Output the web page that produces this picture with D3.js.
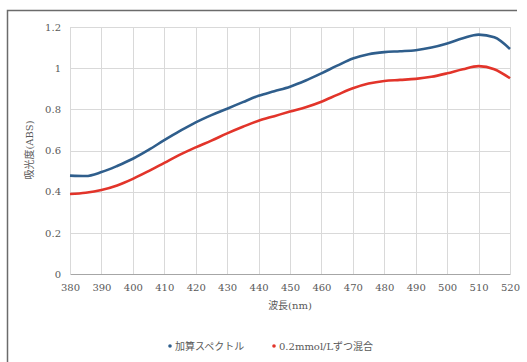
<!DOCTYPE html>
<html>
<head>
<meta charset="utf-8">
<script src="https://cdn.jsdelivr.net/npm/d3@7"></script>
<style>
  body { margin: 0; background: #fff; }
  .eje text { font-family: "DejaVu Serif", "Liberation Serif", serif; font-size: 10px; fill: #595959; }
  .titulo { font-family: "DejaVu Serif", "Noto Sans CJK JP", serif; font-size: 10px; fill: #595959; }
</style>
</head>
<body>
<div id="graf"></div>
<script>
// datos
wavelengths = [380, 385, 390, 395, 400, 405, 410, 415, 420, 425, 430, 435, 440, 445, 450,
               455, 460, 465, 470, 475, 480, 485, 490, 495, 500, 505, 510, 515, 520]
sumSpectrum = [0.478, 0.476, 0.495, 0.525, 0.560, 0.603, 0.650, 0.695, 0.737, 0.772, 0.803, 0.835, 0.866, 0.888, 0.910,
               0.940, 0.975, 1.012, 1.047, 1.068, 1.078, 1.082, 1.087, 1.100, 1.120, 1.145, 1.163, 1.150, 1.093]
mixSpectrum = [0.389, 0.395, 0.408, 0.430, 0.462, 0.500, 0.540, 0.580, 0.615, 0.648, 0.683, 0.715, 0.745, 0.767, 0.789,
               0.810, 0.837, 0.870, 0.902, 0.925, 0.938, 0.943, 0.948, 0.958, 0.975, 0.995, 1.010, 0.995, 0.951]
xTicks = [380, 390, 400, 410, 420, 430, 440, 450, 460, 470, 480, 490, 500, 510, 520]
yTicks = [0, 0.2, 0.4, 0.6, 0.8, 1, 1.2]
seriesNames = ['加算スペクトル', '0.2mmol/Lずつ混合']
seriesColors = ['#2f5e8c', '#e2342a']

// configuración
ancho_total = 527
alto_total = 362
margins = { top: 27, left: 70, right: 17, bottom: 88 }
ancho = ancho_total - margins.left - margins.right
alto = alto_total - margins.top - margins.bottom

svg = d3.select('#graf').append('svg')
        .attr('width', ancho_total)
        .attr('height', alto_total)

// marco
svg.append('path')
   .attr('d', 'M7.5,362 L7.5,10.5 L517,10.5')
   .attr('fill', 'none')
   .attr('stroke', '#6b6b6b')
   .attr('stroke-width', 1.5)

g = svg.append('g')
       .attr('transform', `translate(${margins.left}, ${margins.top})`)

x = d3.scaleLinear().domain([380, 520]).range([0, ancho])
y = d3.scaleLinear().domain([0, 1.2]).range([alto, 0])

// rejilla
g.append('g')
  .selectAll('line.v')
  .data(xTicks)
  .join('line')
    .attr('x1', d => Math.round(x(d)) + 0.5)
    .attr('x2', d => Math.round(x(d)) + 0.5)
    .attr('y1', 0)
    .attr('y2', alto)
    .attr('stroke', '#d9d9d9')
g.append('g')
  .selectAll('line.h')
  .data(yTicks.slice(1))
  .join('line')
    .attr('x1', 0)
    .attr('x2', ancho)
    .attr('y1', d => Math.round(y(d)) + 0.5)
    .attr('y2', d => Math.round(y(d)) + 0.5)
    .attr('stroke', '#d9d9d9')

// ejes
xAxis = g.append('g')
  .attr('class', 'eje')
  .attr('transform', `translate(0, ${alto})`)
  .call(d3.axisBottom(x).tickValues(xTicks).tickSize(0).tickPadding(10).tickFormat(d3.format('d')))
xAxis.select('.domain').attr('stroke', '#a6a6a6')

yAxis = g.append('g')
  .attr('class', 'eje')
  .call(d3.axisLeft(y).tickValues(yTicks).tickSize(0).tickPadding(9).tickFormat(d => d))
yAxis.select('.domain').remove()

// líneas
line = d3.line()
  .x((d, i) => x(wavelengths[i]))
  .y(d => y(d))
  .curve(d3.curveMonotoneX)

;[sumSpectrum, mixSpectrum].forEach((s, k) => {
  g.append('path')
    .datum(s)
    .attr('fill', 'none')
    .attr('stroke', seriesColors[k])
    .attr('stroke-width', 2.6)
    .attr('d', line)
})

// títulos
g.append('text')
  .attr('class', 'titulo')
  .attr('x', x(450))
  .attr('y', alto + 35)
  .attr('text-anchor', 'middle')
  .text('波長(nm)')

svg.append('text')
  .attr('class', 'titulo')
  .attr('transform', 'translate(33, 150) rotate(-90)')
  .attr('text-anchor', 'middle')
  .text('吸光度(ABS)')

// leyenda
legendX = [170, 274]
seriesNames.forEach((n, k) => {
  svg.append('circle')
    .attr('cx', legendX[k])
    .attr('cy', 346)
    .attr('r', 1.8)
    .attr('fill', seriesColors[k])
  svg.append('text')
    .attr('class', 'titulo')
    .attr('x', legendX[k] + 5)
    .attr('y', 349.5)
    .text(n)
})
</script>
</body>
</html>
